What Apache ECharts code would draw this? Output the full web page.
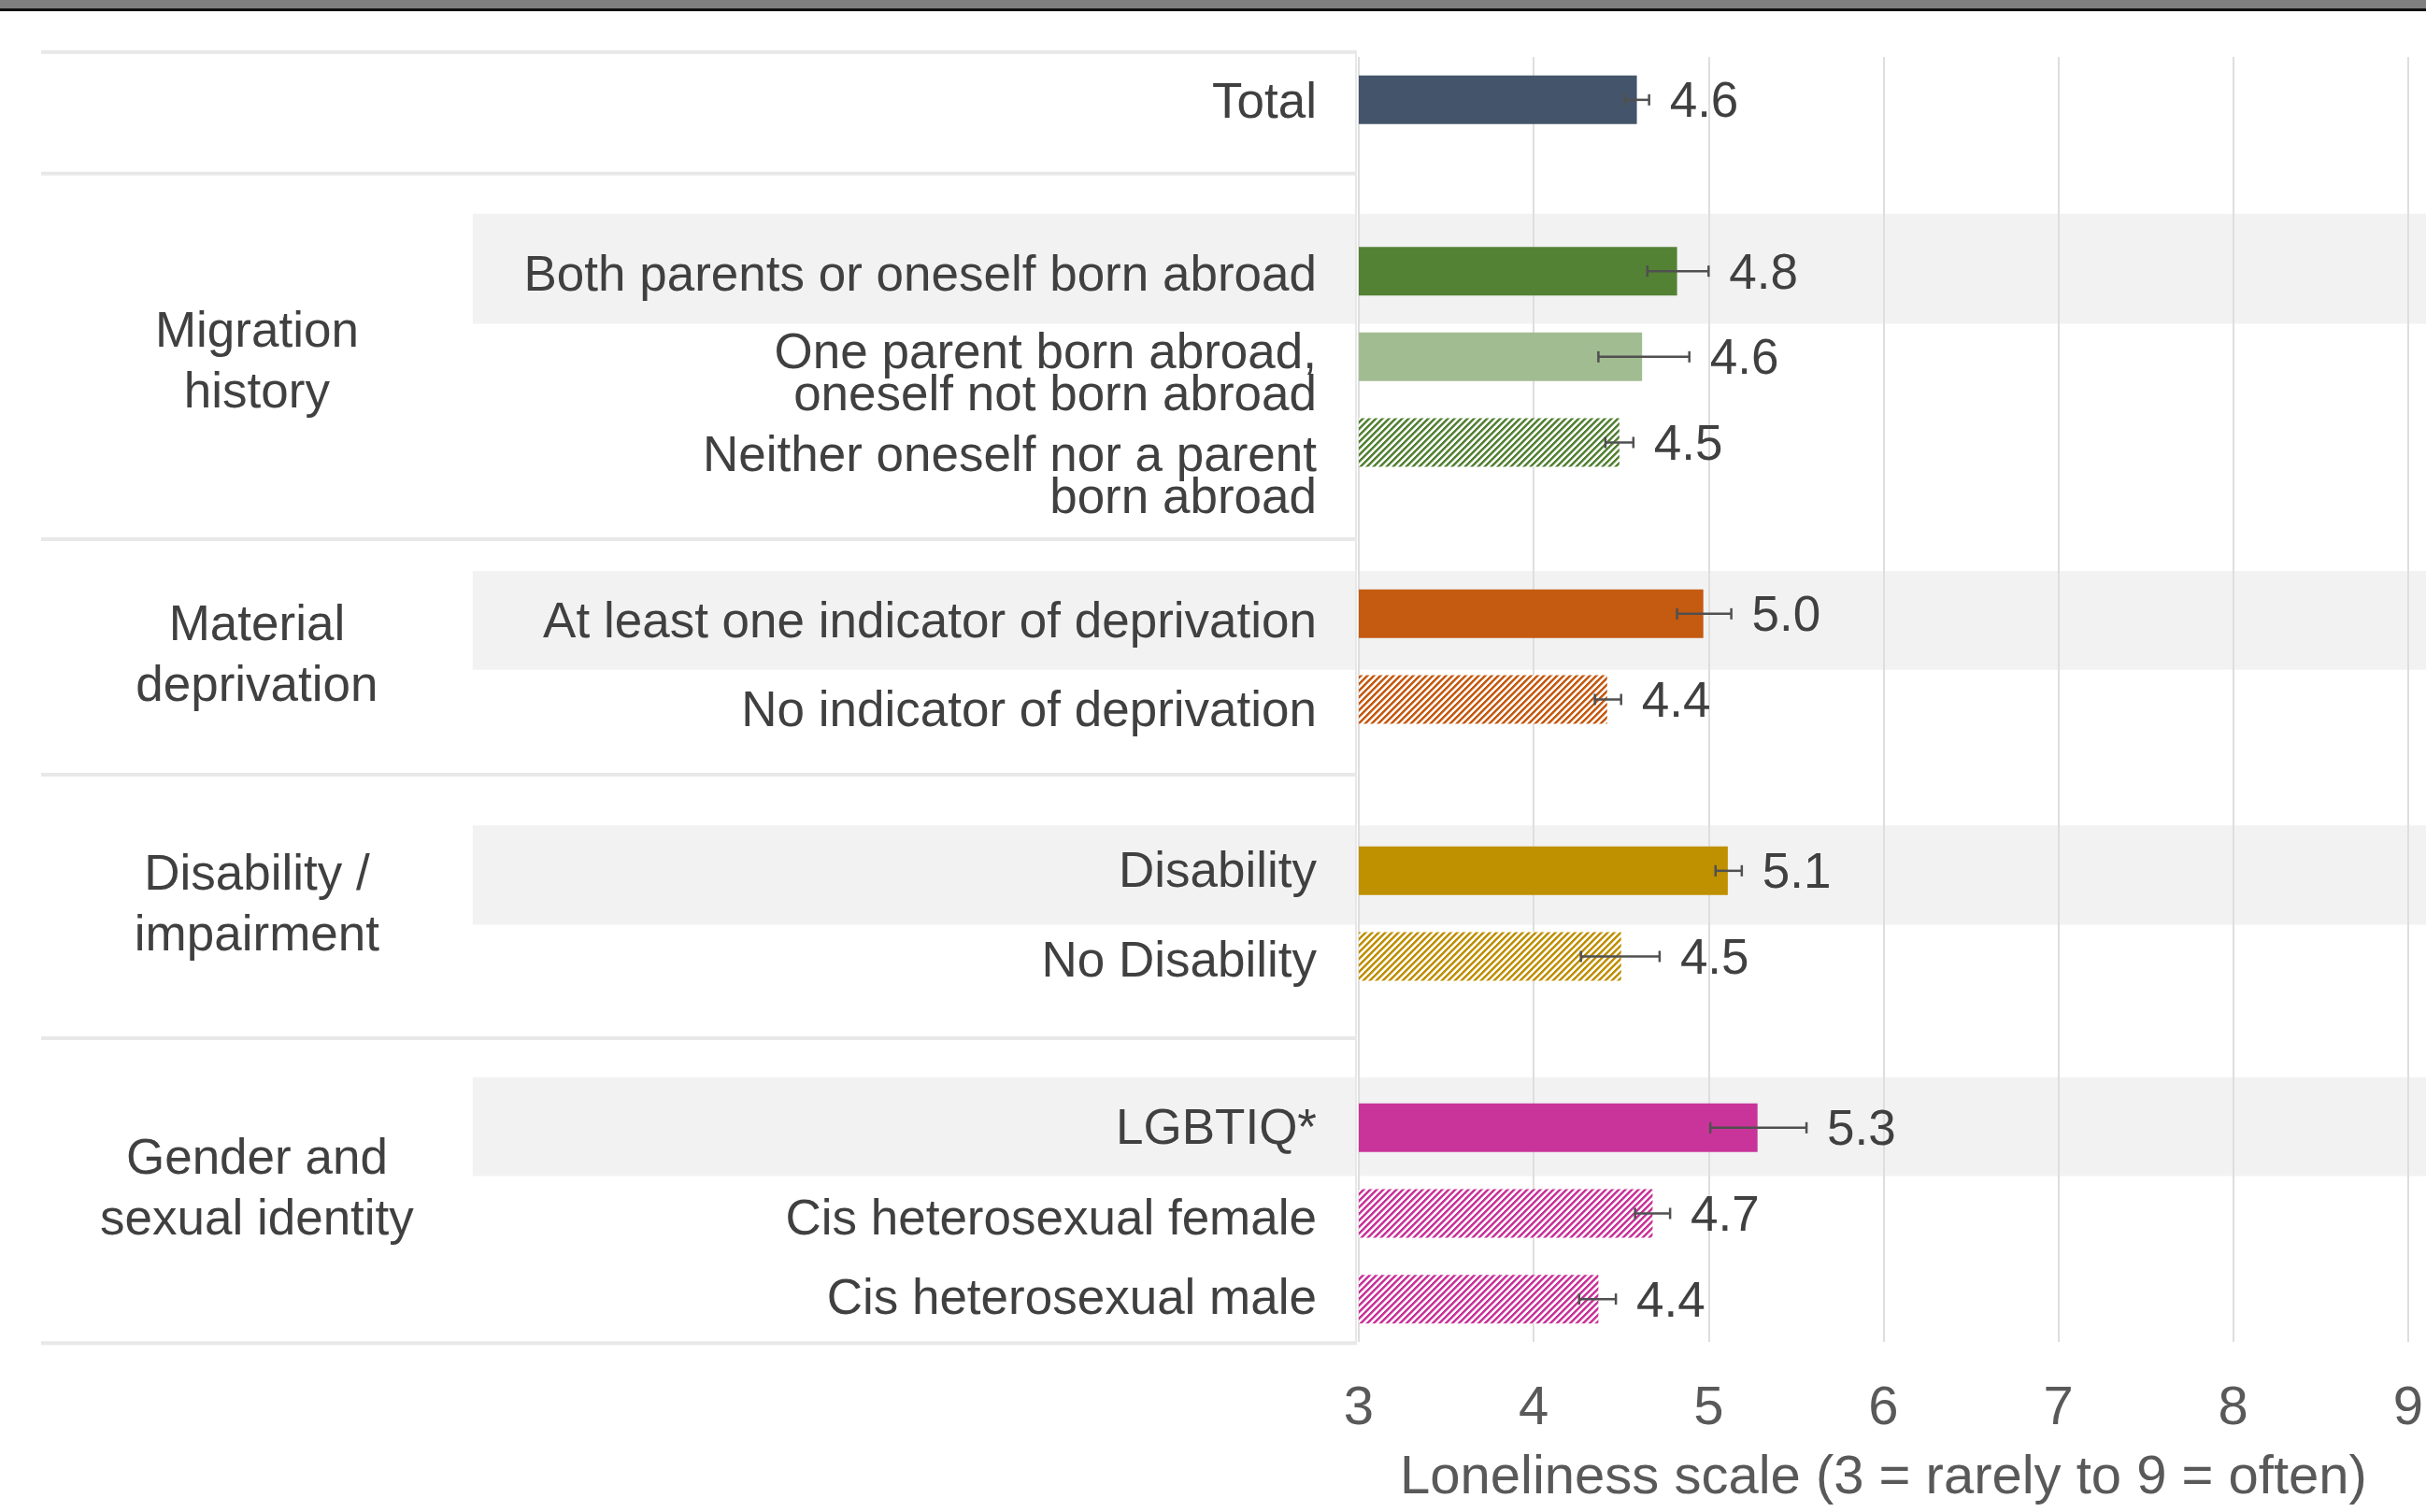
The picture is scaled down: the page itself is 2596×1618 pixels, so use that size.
<!DOCTYPE html>
<html><head><meta charset="utf-8">
<script src="https://cdn.jsdelivr.net/npm/echarts@6/dist/echarts.min.js"></script>
<style>html,body{margin:0;padding:0;background:#fff;}#c{width:2596px;height:1618px;}</style>
</head><body><div id="c"></div>
<script>
// ---------- data ----------
const categories = [
  'Total', '',
  'Both parents or oneself born abroad',
  'One parent born abroad,\noneself not born abroad',
  'Neither oneself nor a parent\nborn abroad', '',
  'At least one indicator of deprivation',
  'No indicator of deprivation', '',
  'Disability', 'No Disability', '',
  'LGBTIQ*', 'Cis heterosexual female', 'Cis heterosexual male'
];
const values = [4.59, null, 4.82, 4.62, 4.49, null, 4.97, 4.42, null, 5.11, 4.50, null, 5.28, 4.68, 4.37];
const ciLow  = [4.52, null, 4.65, 4.37, 4.41, null, 4.82, 4.35, null, 5.04, 4.27, null, 5.01, 4.58, 4.26];
const ciHigh = [4.66, null, 5.00, 4.89, 4.57, null, 5.13, 4.50, null, 5.19, 4.72, null, 5.56, 4.78, 4.47];
const groupNames = ['Migration\nhistory', 'Material\ndeprivation', 'Disability /\nimpairment', 'Gender and\nsexual identity'];
const tickLabels = ['3', '4', '5', '6', '7', '8', '9'];
const axisTitle = 'Loneliness scale (3 = rarely to 9 = often)';

// ---------- styles / layout ----------
const FONT = '"Liberation Sans", Arial, Helvetica, sans-serif';
const TXT = '#404040', AXT = '#595959';
function hatch(color) {
  const p = 7, c = document.createElement('canvas');
  c.width = p; c.height = p;
  const ctx = c.getContext('2d');
  ctx.fillStyle = '#ffffff'; ctx.fillRect(0, 0, p, p);
  ctx.fillStyle = color;
  for (let x = 0; x < p; x++) for (let y = 0; y < p; y++) {
    const d = (x + y) % p;
    if (d < 3) { ctx.globalAlpha = 1; ctx.fillRect(x, y, 1, 1); }
    else if (d === 3) { ctx.globalAlpha = 0.5; ctx.fillRect(x, y, 1, 1); }
  }
  return { image: c, repeat: 'repeat' };
}
const GREEN = '#548235', ORANGE = '#c55a11', GOLD = '#bf9000', MAG = '#c9349a';
const barFills = ['#44546a', null, GREEN, '#a2bc91', hatch(GREEN), null, ORANGE, hatch(ORANGE), null,
  GOLD, hatch(GOLD), null, MAG, hatch(MAG), hatch(MAG)];
// vertical nudges (px) of the row labels relative to their bar
const labelNudge = [5, 0, 6, 20, 38, 0, 11, 14, 0, 3, 7, 0, 3, 8, 1];
const groupNudge = [8, 0, 0, 0];
const valueNudge = 4;
// table structure in category-slot units
const separators = [-0.557, 0.862, 5.128, 7.878, 10.955, 14.513];
const bands = [[1.331, 2.615], [5.5, 6.653], [8.471, 9.628], [11.41, 12.563]];
const bandLeftFrac = 0.328, groupXFrac = 0.164, labelGap = 43;

const chart = echarts.init(document.getElementById('c'), null, { renderer: 'canvas' });

const groupCenters = groupNames.map((g, k) => [groupXFrac, (separators[k + 1] + separators[k + 2]) / 2]);

const option = {
  backgroundColor: '#ffffff',
  animation: false,
  graphic: [
    { type: 'rect', shape: { x: 0, y: 0, width: 2596, height: 9 }, style: { fill: '#808080' }, z: 10 },
    { type: 'rect', shape: { x: 0, y: 9, width: 2596, height: 3 }, style: { fill: '#111111' }, z: 10 }
  ],
  grid: [
    { left: 44, top: 61, width: 1408, bottom: 182, show: false },
    { left: 1454, top: 61, right: 12, bottom: 182, show: false }
  ],
  xAxis: [
    { type: 'value', gridIndex: 0, min: 0, max: 1, show: false },
    {
      type: 'value', gridIndex: 1, min: 3, max: 9, interval: 1, startValue: 3,
      axisLine: { show: false }, axisTick: { show: false },
      splitLine: { show: true, lineStyle: { color: '#dedede', width: 2 } },
      axisLabel: { fontSize: 58, fontFamily: FONT, color: AXT, margin: 43,
        formatter: v => tickLabels[Math.round(v - 3)] },
      name: axisTitle, nameLocation: 'middle', nameGap: 117,
      nameTextStyle: { fontSize: 58, fontFamily: FONT, color: AXT }
    }
  ],
  yAxis: [
    { type: 'value', gridIndex: 0, min: -0.5, max: 14.5, inverse: true, show: false },
    {
      type: 'category', gridIndex: 1, inverse: true, data: categories,
      axisLine: { show: false }, axisTick: { show: false }, splitLine: { show: false },
      axisLabel: { show: false }
    }
  ],
  series: [
    { // shaded bands
      type: 'custom', xAxisIndex: 0, yAxisIndex: 0, z: -1, silent: true, clip: false,
      data: bands.map(b => [bandLeftFrac, b[0], b[1]]),
      renderItem(params, api) {
        const p0 = api.coord([api.value(0), api.value(1)]);
        const p1 = api.coord([1, api.value(2)]);
        const w = api.getWidth();
        return { type: 'group', children: [
          { type: 'rect', shape: { x: p0[0], y: p0[1], width: p1[0] - 2 - p0[0], height: p1[1] - p0[1] }, style: { fill: '#f2f2f2' } },
          { type: 'rect', shape: { x: p1[0] + 2, y: p0[1], width: w - p1[0] - 2, height: p1[1] - p0[1] }, style: { fill: '#f2f2f2' } }
        ] };
      }
    },
    { // table separators
      type: 'custom', xAxisIndex: 0, yAxisIndex: 0, z: 1, silent: true, clip: false,
      data: separators.map(s => [0, s]),
      renderItem(params, api) {
        const a = api.coord([0, api.value(1)]);
        const b = api.coord([1, api.value(1)]);
        const children = [{ type: 'line', shape: { x1: a[0], y1: a[1], x2: b[0], y2: b[1] }, style: { stroke: '#e8e8e8', lineWidth: 4 } }];
        if (params.dataIndex === 0) {
          const end = api.coord([1, separators[separators.length - 1]]);
          children.push({ type: 'line', shape: { x1: b[0] - 1, y1: b[1], x2: end[0] - 1, y2: end[1] }, style: { stroke: '#e8e8e8', lineWidth: 2 } });
        }
        return { type: 'group', children };
      }
    },
    { // group labels
      type: 'custom', xAxisIndex: 0, yAxisIndex: 0, z: 3, silent: true, clip: false,
      data: groupCenters,
      renderItem(params, api) {
        const p = api.coord([api.value(0), api.value(1)]);
        return { type: 'text', x: p[0], y: p[1] + groupNudge[params.dataIndex], style: {
          text: groupNames[params.dataIndex], fill: TXT, fontSize: 53, fontFamily: FONT,
          align: 'center', verticalAlign: 'middle', lineHeight: 65 } };
      }
    },
    { // row labels (category names), aligned to the category slots
      type: 'custom', xAxisIndex: 0, yAxisIndex: 0, z: 3, silent: true, clip: false,
      data: categories.map((c, i) => [1, i]).filter((d, i) => categories[i] !== ''),
      renderItem(params, api) {
        const i = api.value(1);
        const p = api.coord([1, i]);
        return { type: 'text', x: p[0] - labelGap, y: p[1] + labelNudge[i], style: {
          text: categories[i], fill: TXT, fontSize: 53, fontFamily: FONT,
          align: 'right', verticalAlign: 'middle', lineHeight: 45 } };
      }
    },
    { // bars
      type: 'bar', xAxisIndex: 1, yAxisIndex: 1, barWidth: 52, z: 2,
      data: values.map((v, i) => v == null ? '-' : { value: v, itemStyle: { color: barFills[i] } })
    },
    { // error bars + value labels
      type: 'custom', xAxisIndex: 1, yAxisIndex: 1, z: 4, silent: true, clip: false,
      encode: { y: 0, x: [1, 2] },
      data: values.map((v, i) => v == null ? null : [i, ciLow[i], ciHigh[i]]).filter(Boolean),
      renderItem(params, api) {
        const i = api.value(0);
        const lo = api.coord([api.value(1), i]);
        const hi = api.coord([api.value(2), i]);
        const y = lo[1], h = 6;
        const st = { stroke: '#505050', lineWidth: 2.5 };
        return { type: 'group', children: [
          { type: 'line', shape: { x1: lo[0], y1: y, x2: hi[0], y2: y }, style: st },
          { type: 'line', shape: { x1: lo[0], y1: y - h, x2: lo[0], y2: y + h }, style: st },
          { type: 'line', shape: { x1: hi[0], y1: y - h, x2: hi[0], y2: y + h }, style: st },
          { type: 'text', x: hi[0] + 22, y: y + valueNudge, style: { text: values[i].toFixed(1), fill: TXT,
            fontSize: 53, fontFamily: FONT, align: 'left', verticalAlign: 'middle' } }
        ] };
      }
    }
  ]
};
chart.setOption(option);
</script></body></html>
